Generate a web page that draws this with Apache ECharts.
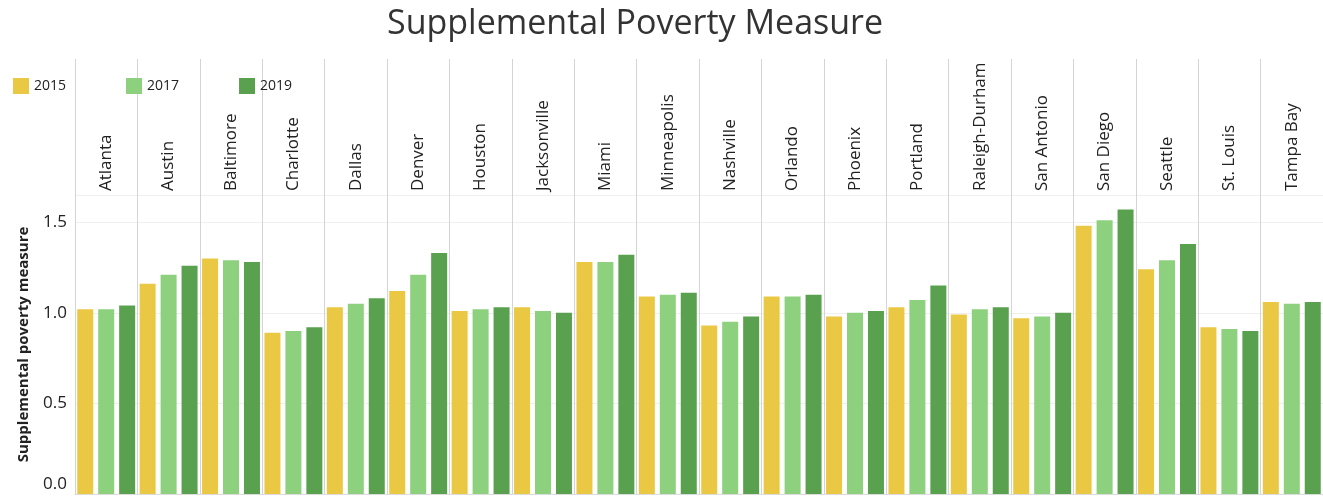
<!DOCTYPE html>
<html>
<head>
<meta charset="utf-8">
<script src="https://cdn.jsdelivr.net/npm/echarts@6/dist/echarts.min.js"></script>
<style>
  html, body { margin: 0; padding: 0; background: #fff; }
  #main { width: 1323px; height: 496px; }
</style>
</head>
<body>
<div id="main"></div>
<script>
// cities along the top
const cities = ['Atlanta', 'Austin', 'Baltimore', 'Charlotte', 'Dallas', 'Denver', 'Houston',
  'Jacksonville', 'Miami', 'Minneapolis', 'Nashville', 'Orlando', 'Phoenix', 'Portland',
  'Raleigh-Durham', 'San Antonio', 'San Diego', 'Seattle', 'St. Louis', 'Tampa Bay'];

// values
const spm2015 = [1.02, 1.16, 1.30, 0.89, 1.03, 1.12, 1.01, 1.03, 1.28, 1.09, 0.93, 1.09,
  0.98, 1.03, 0.99, 0.97, 1.48, 1.24, 0.92, 1.06];
const spm2017 = [1.02, 1.21, 1.29, 0.90, 1.05, 1.21, 1.02, 1.01, 1.28, 1.10, 0.95, 1.09,
  1.00, 1.07, 1.02, 0.98, 1.51, 1.29, 0.91, 1.05];
const spm2019 = [1.04, 1.26, 1.28, 0.92, 1.08, 1.33, 1.03, 1.00, 1.32, 1.11, 0.98, 1.10,
  1.01, 1.15, 1.03, 1.00, 1.57, 1.38, 0.90, 1.06];

const yTicks = [0, 0.5, 1.0, 1.5];

const chart = echarts.init(document.getElementById('main'));
const font = '"Open Sans", "Noto Sans", sans-serif';
const sepColor = '#d4d4d4';

function bar(name, data, color) {
  return {
    name: name,
    type: 'bar',
    xAxisIndex: 1,
    yAxisIndex: 1,
    data: data,
    barWidth: 16,
    barGap: '31%',
    itemStyle: { color: color },
    animation: false
  };
}

const option = {
  animation: false,
  textStyle: { fontFamily: font },
  title: {
    text: 'Supplemental Poverty Measure',
    left: 387,
    top: 7,
    padding: 0,
    textStyle: { fontSize: 34, fontWeight: 'normal', color: '#333', fontFamily: font }
  },
  legend: {
    left: 13,
    top: 78,
    padding: 0,
    icon: 'rect',
    itemWidth: 16,
    itemHeight: 16,
    itemGap: 60,
    textStyle: { fontSize: 14, color: '#222', fontFamily: font },
    data: ['2015', '2017', '2019']
  },
  grid: [
    // header band holding the city names
    { left: 75, right: 0, top: 59, height: 136, outerBoundsMode: 'none' },
    // plot
    { left: 75, right: 0, top: 195, bottom: 2, outerBoundsMode: 'none' }
  ],
  xAxis: [
    {
      type: 'category',
      gridIndex: 0,
      data: cities,
      axisLine: { show: false },
      axisTick: { show: false },
      axisLabel: { show: false },
      splitLine: { show: true, interval: 0, lineStyle: { color: sepColor, width: 1 } }
    },
    {
      type: 'category',
      gridIndex: 1,
      position: 'top',
      data: cities,
      axisLine: { show: true, lineStyle: { color: '#dcdcdc' } },
      axisTick: { show: false },
      axisLabel: {
        interval: 0,
        rotate: 90,
        margin: 4,
        fontSize: 17,
        color: '#222',
        fontFamily: font
      },
      splitLine: { show: true, interval: 0, lineStyle: { color: sepColor, width: 1 } }
    }
  ],
  yAxis: [
    { type: 'value', gridIndex: 0, show: false },
    {
      type: 'value',
      gridIndex: 1,
      min: 0,
      max: 1.65,
      interval: 0.5,
      name: 'Supplemental poverty measure',
      nameLocation: 'middle',
      nameRotate: 90,
      nameGap: 44,
      nameTextStyle: { fontSize: 15, fontWeight: 'bold', color: '#222', fontFamily: font },
      axisLine: { show: false },
      axisTick: { show: false },
      axisLabel: {
        fontSize: 17,
        color: '#222',
        margin: 8,
        showMaxLabel: false,
        formatter: function (v) {
          if (v === 0) return '{z|0.0}';
          return yTicks.indexOf(v) >= 0 ? v.toFixed(1) : '';
        },
        rich: {
          // lift the bottom label above the baseline like the original
          z: { fontSize: 17, color: '#222', fontFamily: font, padding: [0, 0, 20, 0] }
        }
      },
      splitLine: { show: true, lineStyle: { color: '#efefef' } }
    }
  ],
  series: [
    bar('2015', spm2015, '#EBC844'),
    bar('2017', spm2017, '#8DD17E'),
    bar('2019', spm2019, '#59A14F')
  ]
};

chart.setOption(option);
</script>
</body>
</html>
